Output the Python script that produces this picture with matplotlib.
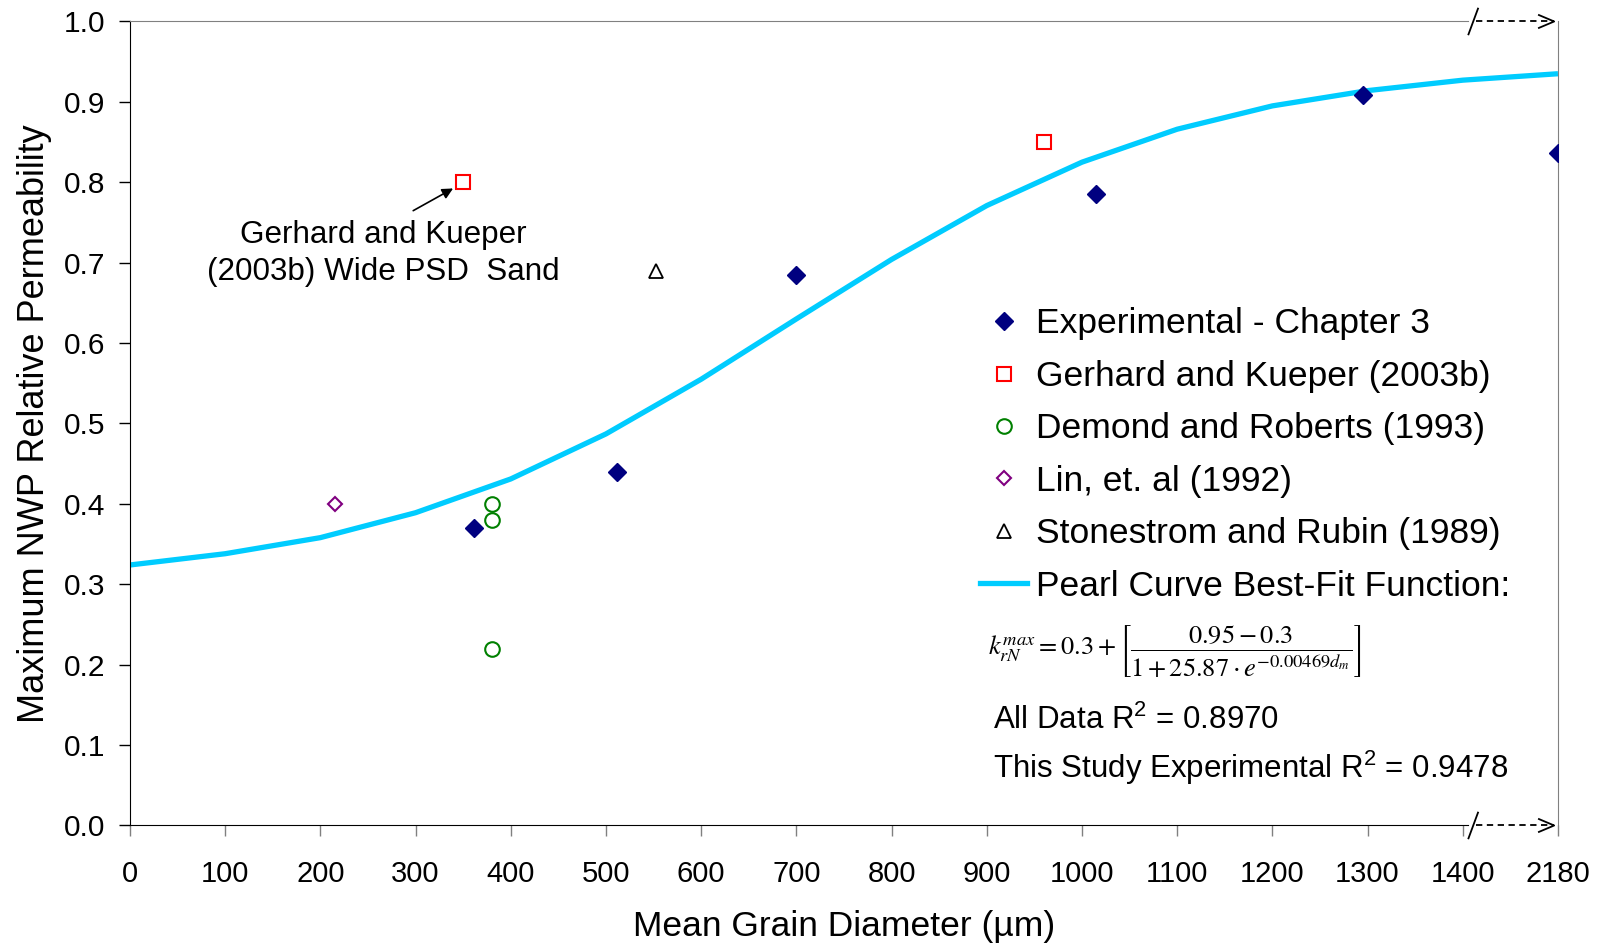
import matplotlib
matplotlib.use("Agg")
import matplotlib.pyplot as plt
from matplotlib.lines import Line2D

plt.rcParams['font.family'] = ['Liberation Sans', 'DejaVu Sans']
plt.rcParams['mathtext.fontset'] = 'custom'
plt.rcParams['mathtext.rm'] = 'Liberation Sans'
plt.rcParams['mathtext.it'] = 'Liberation Sans:italic'

# data (x = 1500 is the broken-axis position labelled 2180)
exp_x = [361, 512, 700, 1015, 1295, 1500]
exp_y = [0.37, 0.44, 0.685, 0.785, 0.908, 0.837]
gk_x = [350, 960]
gk_y = [0.80, 0.85]
dr_x = [380, 380, 380]
dr_y = [0.40, 0.38, 0.22]
lin_x = [215]
lin_y = [0.40]
sr_x = [553]
sr_y = [0.69]
fit_x = [0, 100, 200, 300, 400, 500, 600, 700, 800, 900, 1000, 1100, 1200, 1300, 1400, 1500]
fit_y = [0.324, 0.338, 0.358, 0.389, 0.431, 0.487, 0.555, 0.630, 0.704, 0.771,
         0.825, 0.866, 0.895, 0.914, 0.927, 0.935]
xticks = [0, 100, 200, 300, 400, 500, 600, 700, 800, 900, 1000, 1100, 1200, 1300, 1400, 1500]
xticklabels = ['0', '100', '200', '300', '400', '500', '600', '700', '800', '900',
               '1000', '1100', '1200', '1300', '1400', '2180']

fig = plt.figure(figsize=(16.04, 9.46), dpi=100)
ax = fig.add_axes([0.081, 0.1274, 0.8903, 0.8499])

ax.plot(fit_x, fit_y, color='#00CCFF', lw=3.8, solid_capstyle='butt', zorder=2)
ax.plot(exp_x, exp_y, 'D', ms=9, color='#000080', ls='none', zorder=3)
ax.plot(gk_x, gk_y, 's', ms=10.5, mfc='none', mec='#FF0000', mew=1.5, ls='none', zorder=3)
ax.plot(dr_x, dr_y, 'o', ms=10.5, mfc='none', mec='#008000', mew=1.5, ls='none', zorder=3)
ax.plot(lin_x, lin_y, 'D', ms=7, mfc='none', mec='#800080', mew=1.5, ls='none', zorder=3)
ax.plot(sr_x, sr_y, '^', ms=10, mfc='none', mec='black', mew=1.3, ls='none', zorder=3)

ax.set_xlim(0, 1500)
ax.set_ylim(0, 1.0)
ax.set_xticks(xticks)
ax.set_xticklabels(xticklabels)
ax.set_yticks([i / 10 for i in range(11)])
ax.set_yticklabels(['%.1f' % (i / 10) for i in range(11)])
ax.tick_params(axis='x', direction='out', length=8, width=1, color='#808080',
               labelsize=21, pad=17)
ax.tick_params(axis='y', direction='out', length=8, width=1, color='black',
               labelsize=21.5, pad=10)

ax.set_xlabel('Mean Grain Diameter (\u00b5m)', fontsize=25.5, labelpad=16)
ax.set_ylabel('Maximum NWP Relative Permeability', fontsize=26, labelpad=8)

# spines with axis break near the right edge
for s in ['left', 'bottom']:
    ax.spines[s].set_color('black')
ax.spines['top'].set_color('#808080')
ax.spines['right'].set_color('#808080')
ax.spines['bottom'].set_bounds(0, 1405)
ax.spines['top'].set_bounds(0, 1405)

tr = ax.get_xaxis_transform()
for yb in [0, 1]:
    ax.plot([1406, 1416], [yb - 0.016, yb + 0.016], color='black', lw=1.3,
            transform=tr, clip_on=False)
    ax.plot([1414, 1496], [yb, yb], color='black', lw=1.3, ls=(0, (3.5, 2.5)),
            transform=tr, clip_on=False)
    ax.plot([1480, 1496, 1480], [yb + 0.008, yb, yb - 0.008], color='black', lw=1.3,
            transform=tr, clip_on=False)

# annotation
ax.text(266, 0.711, 'Gerhard and Kueper\n(2003b) Wide PSD  Sand', fontsize=22.6,
        ha='center', va='center', linespacing=1.3)
ax.annotate('', xy=(342, 0.794), xytext=(295, 0.763),
            arrowprops=dict(arrowstyle='-|>', color='black', lw=1.2, mutation_scale=16))

# legend
handles = [
    Line2D([], [], marker='D', ms=9, color='#000080', ls='none'),
    Line2D([], [], marker='s', ms=10.5, mfc='none', mec='#FF0000', mew=1.5, ls='none'),
    Line2D([], [], marker='o', ms=10.5, mfc='none', mec='#008000', mew=1.5, ls='none'),
    Line2D([], [], marker='D', ms=7, mfc='none', mec='#800080', mew=1.5, ls='none'),
    Line2D([], [], marker='^', ms=10, mfc='none', mec='black', mew=1.3, ls='none'),
    Line2D([], [], color='#00CCFF', lw=3.8),
]
labels = ['Experimental - Chapter 3', 'Gerhard and Kueper (2003b)',
          'Demond and Roberts (1993)', 'Lin, et. al (1992)',
          'Stonestrom and Rubin (1989)', 'Pearl Curve Best-Fit Function:']
fig.legend(handles, labels, loc='upper left', bbox_to_anchor=(0.611, 0.675),
           bbox_transform=fig.transFigure, frameon=False, fontsize=25.5,
           handlelength=1.33, handletextpad=0.25, labelspacing=0.55, borderpad=0,
           borderaxespad=0)

fig.text(988 / 1604, 1 - 652 / 946,
         r'$k_{rN}^{max}=0.3+\left[\dfrac{0.95-0.3}{1+25.87\cdot e^{-0.00469 d_m}}\right]$',
         fontsize=19, ha='left', va='center', math_fontfamily='stix')
fig.text(993 / 1604, 1 - 720 / 946, 'All Data R$^2$ = 0.8970', fontsize=22.5,
         ha='left', va='center')
fig.text(993 / 1604, 1 - 768 / 946, 'This Study Experimental R$^2$ = 0.9478',
         fontsize=22.5, ha='left', va='center')

fig.savefig('out.png', dpi=100)
